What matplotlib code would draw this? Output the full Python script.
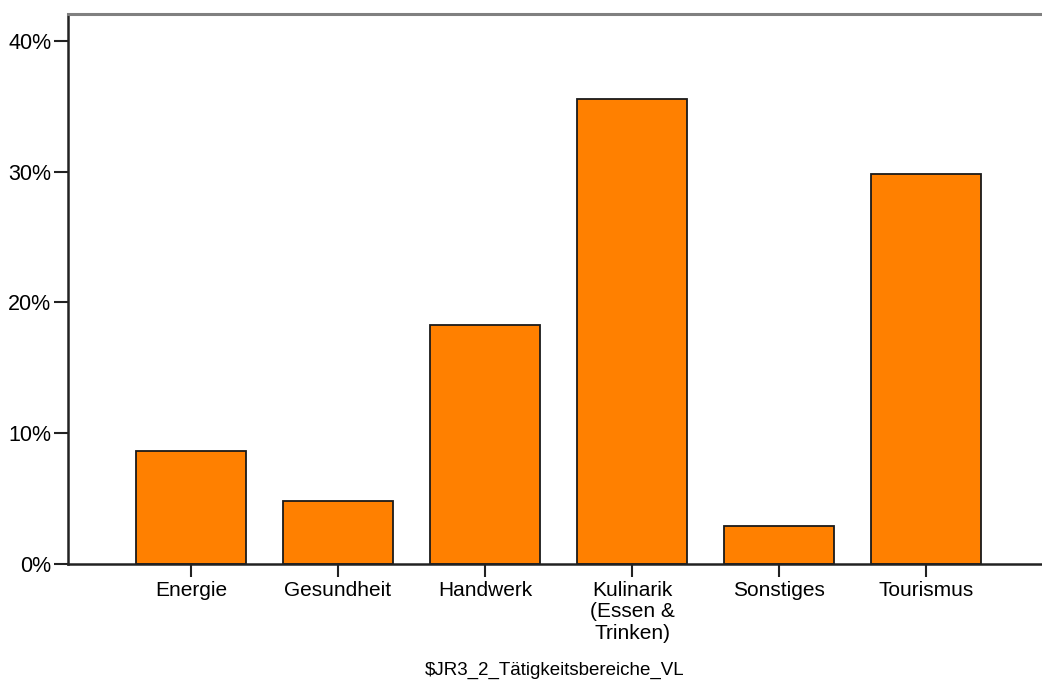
import numpy as np
import matplotlib
matplotlib.use("Agg")
import matplotlib.pyplot as plt

kategorien = ["Energie", "Gesundheit", "Handwerk", "Kulinarik\n(Essen &\nTrinken)", "Sonstiges", "Tourismus"]
prozent = [8.65, 4.81, 18.27, 35.58, 2.88, 29.81]
yticks = [0, 10, 20, 30, 40]
ytick_labels = ["0%", "10%", "20%", "30%", "40%"]
xlabel = "$JR3_2_Tätigkeitsbereiche_VL"

plt.rcParams['font.family'] = ['Liberation Sans', 'DejaVu Sans']

fig = plt.figure(figsize=(10.42, 6.81), dpi=100)
ax = fig.add_axes([68/1042, 1-564/681, 1-68/1042, (564-14)/681])

x = np.arange(len(kategorien))
ax.bar(x, prozent, width=0.75, color="#ff8000", edgecolor="#1a1a1a", linewidth=1.3, zorder=2)

ax.set_xlim(-0.837, 5.789)
ax.set_ylim(0, 42.06)
ax.set_xticks(x)
ax.set_xticklabels(kategorien, fontsize=15, linespacing=1.17)
ax.set_yticks(yticks)
ax.set_yticklabels(ytick_labels, fontsize=15.5)
ax.tick_params(axis='y', length=10, width=1.5, color="#222222", pad=2)
ax.tick_params(axis='x', length=9, width=1.5, color="#222222", pad=3)

ax.spines['left'].set_color("#222222")
ax.spines['left'].set_linewidth(1.8)
ax.spines['bottom'].set_color("#222222")
ax.spines['bottom'].set_linewidth(1.8)
ax.spines['top'].set_color("#808080")
ax.spines['top'].set_linewidth(2.2)
ax.spines['right'].set_visible(False)

ax.set_xlabel(xlabel, fontsize=13.5, labelpad=14)

fig.savefig("out.png", dpi=100)
